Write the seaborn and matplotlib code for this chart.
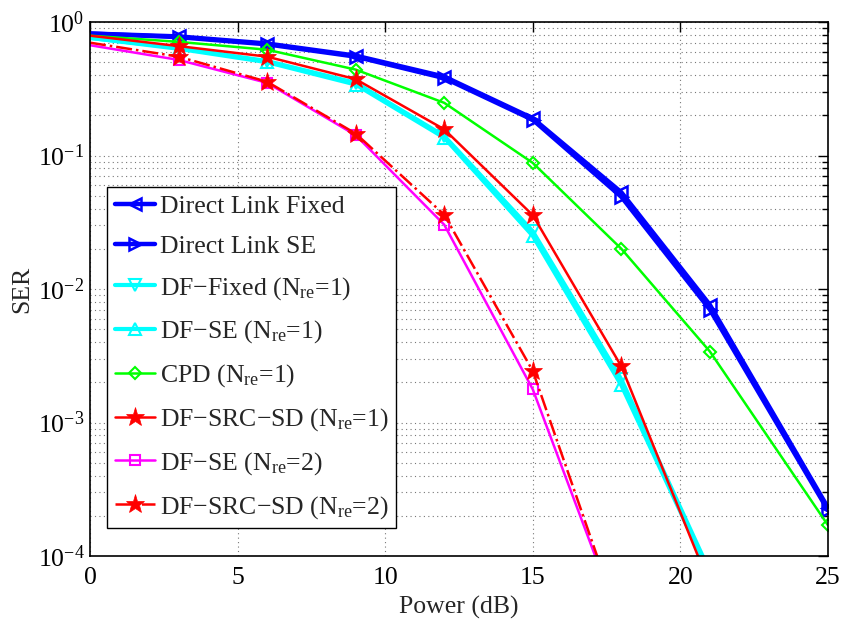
import numpy as np
import pandas as pd
import matplotlib
matplotlib.use("Agg")
import matplotlib.pyplot as plt
import seaborn as sns
from matplotlib.ticker import LogLocator, NullFormatter, FixedLocator

sns.set_style("white")
plt.rcParams['font.family'] = ['Liberation Serif', 'DejaVu Serif']
plt.rcParams['mathtext.fontset'] = 'custom'
plt.rcParams['mathtext.rm'] = 'Liberation Serif'
plt.rcParams['mathtext.it'] = 'Liberation Serif:italic'

power = [0, 3, 6, 9, 12, 15, 18, 21, 25]
power_n2 = [0, 3, 6, 9, 12, 15, 18]
power_n1 = [0, 3, 6, 9, 12, 15, 18, 21]

direct_fixed = [0.82, 0.78, 0.69, 0.56, 0.39, 0.19, 0.053, 0.0076, 2.3e-4]
direct_se = [0.82, 0.77, 0.68, 0.55, 0.38, 0.185, 0.049, 0.0070, 2.2e-4]
df_fixed_1 = [0.76, 0.64, 0.51, 0.35, 0.140, 0.027, 0.0021, 7.6e-5]
df_se_1 = [0.76, 0.63, 0.50, 0.34, 0.136, 0.025, 0.0019, 7.2e-5]
cpd_1 = [0.79, 0.71, 0.62, 0.44, 0.248, 0.088, 0.020, 0.0034, 1.7e-4]
df_src_sd_1 = [0.79, 0.66, 0.55, 0.373, 0.157, 0.0357, 0.00263, 6.0e-5]
df_se_2 = [0.67, 0.52, 0.35, 0.142, 0.0303, 0.00177, 3.0e-5]
df_src_sd_2 = [0.70, 0.55, 0.357, 0.146, 0.036, 0.00243, 3.0e-5]

labels = ['Direct Link Fixed', 'Direct Link SE',
          'DF\u2212Fixed (N$_{\\rm re}$=1)', 'DF\u2212SE (N$_{\\rm re}$=1)',
          'CPD (N$_{\\rm re}$=1)', 'DF\u2212SRC\u2212SD (N$_{\\rm re}$=1)',
          'DF\u2212SE (N$_{\\rm re}$=2)', 'DF\u2212SRC\u2212SD (N$_{\\rm re}$=2)']

series = [
    (power, direct_fixed, dict(color='#0000ff', marker='<', lw=3.2, ls='-', mfc='none', ms=9, mew=1.8)),
    (power, direct_se, dict(color='#0000ff', marker='>', lw=3.2, ls='-', mfc='none', ms=9, mew=1.8)),
    (power_n1, df_fixed_1, dict(color='#00ffff', marker='v', lw=3.0, ls='-', mfc='none', ms=9, mew=1.5)),
    (power_n1, df_se_1, dict(color='#00ffff', marker='^', lw=3.0, ls='-', mfc='none', ms=9, mew=1.5)),
    (power, cpd_1, dict(color='#00ff00', marker='D', lw=1.8, ls='-', mfc='none', ms=6.5, mew=1.5)),
    (power_n1, df_src_sd_1, dict(color='#ff0000', marker='*', lw=1.8, ls='-', mfc='#ff0000', ms=14, mew=0.5)),
    (power_n2, df_se_2, dict(color='#ff00ff', marker='s', lw=1.8, ls='-', mfc='none', ms=6.5, mew=1.5)),
    (power_n2, df_src_sd_2, dict(color='#ff0000', marker='*', lw=1.8, ls='-.', mfc='#ff0000', ms=14, mew=0.5)),
]

fig = plt.figure(figsize=(8.41, 6.19), dpi=100)
ax = fig.add_axes([90/841, 1-556/619, 738/841, 534/619])

handles = []
for (xs, ys, st), lab in zip(series, labels):
    df = pd.DataFrame({'x': xs, 'y': ys})
    sns.lineplot(data=df, x='x', y='y', ax=ax, color=st['color'], linewidth=st['lw'],
                 linestyle=st['ls'], marker=st['marker'], markersize=st['ms'],
                 markerfacecolor=st['mfc'], markeredgecolor=st['color'],
                 markeredgewidth=st['mew'], markevery=list(range(1, len(xs))),
                 label=lab, legend=False, clip_on=True)
    handles.append(ax.lines[-1])

ax.set_yscale('log')
ax.set_xlim(0, 25)
ax.set_ylim(1e-4, 1)
ax.xaxis.set_major_locator(FixedLocator([0, 5, 10, 15, 20, 25]))
ax.yaxis.set_major_locator(LogLocator(base=10, numticks=10))
ax.yaxis.set_minor_locator(LogLocator(base=10, subs=np.arange(2, 10), numticks=20))
ax.yaxis.set_minor_formatter(NullFormatter())

ax.grid(True, which='major', axis='both', color='#777777', linestyle=(0, (1, 3)), linewidth=0.8)
ax.grid(True, which='minor', axis='y', color='#777777', linestyle=(0, (1, 3)), linewidth=0.8)
ax.set_axisbelow(True)

ax.tick_params(which='both', direction='in', top=True, right=True, labelsize=18.5, colors='black')
ax.tick_params(which='major', length=7, width=1)
ax.tick_params(which='minor', length=4, width=1)
ax.tick_params(axis='x', pad=8)
ax.tick_params(axis='y', pad=4)
for sp in ax.spines.values():
    sp.set_color('black')
    sp.set_linewidth(1.2)

ax.set_xlabel('Power (dB)', fontsize=18.5, labelpad=5)
ax.set_ylabel('SER', fontsize=18.5, labelpad=3)

leg = ax.legend(handles, labels, loc='lower left', bbox_to_anchor=(0.023, 0.052),
                borderaxespad=0, fontsize=18.5, frameon=True, fancybox=False,
                edgecolor='black', framealpha=1, handlelength=1.55, handletextpad=0.2,
                labelspacing=0.66, borderpad=0.3)
leg.get_frame().set_linewidth(1.0)

fig.savefig('out.png', dpi=100)
